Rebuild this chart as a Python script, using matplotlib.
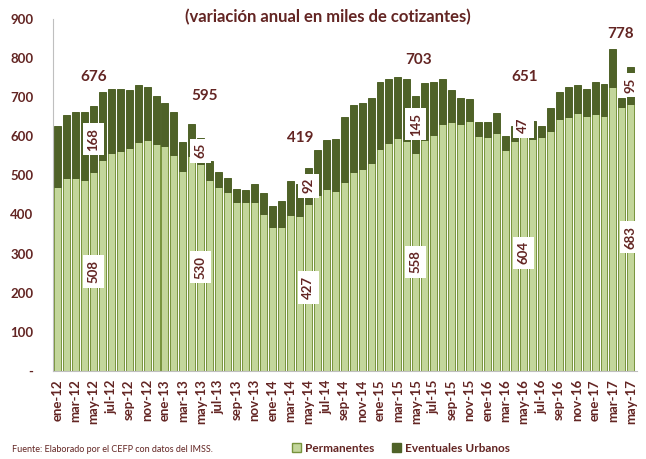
import numpy as np
import matplotlib.pyplot as plt
from matplotlib.patches import Patch

# -----------------------------
# Data (miles de cotizantes)
# -----------------------------
meses = ["ene", "feb", "mar", "abr", "may", "jun",
         "jul", "ago", "sep", "oct", "nov", "dic"]
periodos = [f"{m}-{a}" for a in range(12, 18) for m in meses][:65]

permanentes = [471, 494, 494, 489, 508, 540, 556, 563, 570, 586, 590, 581,
               574, 552, 511, 549, 530, 488, 469, 458, 431, 431, 431, 402,
               369, 369, 398, 396, 427, 449, 465, 459, 483, 508, 515, 532,
               568, 582, 595, 587, 558, 589, 602, 630, 637, 630, 638, 600,
               597, 608, 565, 587, 604, 592, 597, 612, 644, 650, 658, 651,
               656, 651, 725, 675, 683]
eventuales = [156, 159, 168, 172, 168, 174, 164, 157, 148, 145, 135, 121,
              111, 109, 75, 82, 65, 48, 39, 36, 34, 32, 48, 52,
              53, 64, 88, 81, 92, 115, 125, 133, 167, 171, 170, 165,
              170, 163, 157, 159, 145, 148, 136, 115, 81, 67, 57, 36,
              39, 51, 35, 40, 47, 48, 28, 59, 68, 75, 74, 69,
              82, 83, 99, 22, 95]

# labelled months (may of each year) and the totals as printed in the source
idx_etiquetas = [4, 16, 28, 40, 52, 64]
totales_texto = ["676", "595", "419", "703", "651", "778"]

# -----------------------------
# Style
# -----------------------------
plt.rcParams["font.family"] = ["Lato", "DejaVu Sans"]
granate = "#632523"
verde_claro = "#c3d69b"
verde_borde = "#77933c"
verde_oscuro = "#4f6228"

fig = plt.figure(figsize=(6.46, 4.59), dpi=100)
ax = fig.add_axes([0.082, 0.192, 0.9036, 0.767])

x = np.arange(len(periodos))
perm = np.array(permanentes)
even = np.array(eventuales)

ax.bar(x, perm, width=0.78, color=verde_claro, edgecolor=verde_borde, linewidth=0.7)
ax.bar(x, even, width=0.78, bottom=perm, color=verde_oscuro,
       edgecolor=verde_oscuro, linewidth=0.7)

# -----------------------------
# Annotations
# -----------------------------
caja = dict(boxstyle="square,pad=0.35", facecolor="white", edgecolor="none")
total_dx = [0.0, 0.4, -0.9, 0.25, 0.2, -1.2]
total_dy = [75, 108, 76, 92, 100, 83]
for k, i in enumerate(idx_etiquetas):
    ax.text(i, perm[i] / 2, f"{perm[i]}", rotation=90, ha="center", va="center",
            fontsize=9.5, fontweight="bold", color=granate, bbox=caja)
    ax.text(i, perm[i] + even[i] / 2, f"{even[i]}", rotation=90, ha="center",
            va="center", fontsize=9.5, fontweight="bold", color=granate, bbox=caja)
    ax.text(i + total_dx[k], perm[i] + even[i] + total_dy[k], totales_texto[k],
            ha="center", va="center", fontsize=11, fontweight="bold", color=granate)

# -----------------------------
# Axes
# -----------------------------
ax.set_xlim(-0.5, 64.65)
ax.set_ylim(0, 900)
ax.set_yticks(range(0, 1000, 100))
ax.set_yticklabels(["-"] + [str(v) for v in range(100, 1000, 100)])
ax.set_xticks(x[::2])
ax.set_xticklabels(periodos[::2], rotation=90)
ax.tick_params(axis="y", length=0, pad=14, labelsize=9.5, labelcolor=granate)
ax.tick_params(axis="x", length=0, pad=6, labelsize=9.5, labelcolor=granate)
for lab in ax.get_xticklabels() + ax.get_yticklabels():
    lab.set_fontweight("bold")
for s in ["top", "right"]:
    ax.spines[s].set_visible(False)
ax.spines["left"].set_color("#bfbfbf")
ax.spines["bottom"].set_color("#bfbfbf")

fig.text(0.508, 0.963, "(variación anual en miles de cotizantes)", ha="center",
         va="center", fontsize=12, fontweight="bold", color=granate)
fig.text(0.018, 0.015, "Fuente: Elaborado por el CEFP con datos del IMSS.",
         fontsize=6.5, color=granate)

handles = [Patch(facecolor=verde_claro, edgecolor=verde_borde),
           Patch(facecolor=verde_oscuro, edgecolor=verde_oscuro)]
leg = fig.legend(handles, ["Permanentes", "Eventuales Urbanos"], loc="lower left",
                 bbox_to_anchor=(0.435, -0.012), ncol=2, frameon=False,
                 handlelength=0.8, handleheight=0.8, handletextpad=0.3,
                 columnspacing=1.5, prop={"weight": "bold", "size": 8.5})
for t in leg.get_texts():
    t.set_color(granate)

fig.savefig("out.png", dpi=100)
